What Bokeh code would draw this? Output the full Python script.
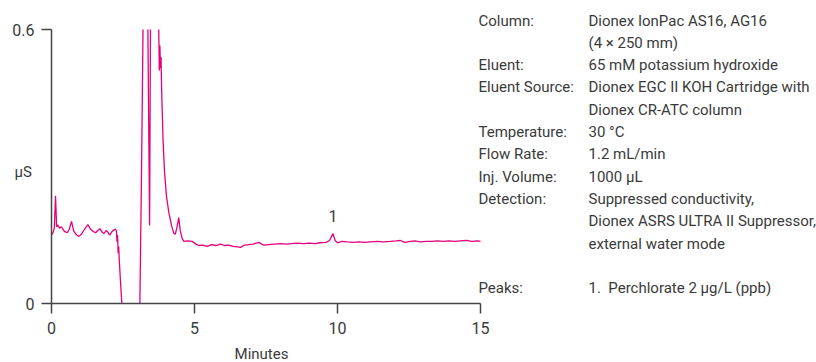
from bokeh.plotting import figure
from bokeh.models import Range1d, FixedTicker, Label, ColumnDataSource
from bokeh.core.properties import value
from bokeh.embed import file_html
from bokeh.resources import INLINE

NAN = float("nan")  # off-scale parts of the trace (above 0.6 uS / below 0) are left out

# ---- data ----
time_min = [0.00, 0.05, 0.10, 0.14, 0.18, 0.22, 0.28, 0.35, 0.45, 0.55, 0.62, 0.70, 0.78, 0.88,
            0.96, 1.05, 1.15, 1.27, 1.36, 1.45, 1.54, 1.62, 1.69, 1.76, 1.83, 1.92, 1.98, 2.04,
            2.12, 2.24, 2.27, 2.29, 2.31, 2.33, 2.35, 2.37, 2.41, 2.46, 2.80, 3.09, 3.15,
            3.20, 3.30, 3.37, 3.43, 3.46, 3.60, 3.75, 3.77, 3.79, 3.81, 3.83, 3.85,
            3.90, 3.95, 4.02, 4.10, 4.20, 4.28, 4.33, 4.38, 4.45, 4.50, 4.57, 4.63, 4.75,
            4.92, 5.05, 5.15, 5.30, 5.44, 5.60, 5.75, 5.91, 6.05, 6.20, 6.35, 6.50, 6.61, 6.75,
            6.90, 7.05, 7.25, 7.35, 7.43, 7.60, 7.80, 8.00, 8.20, 8.40, 8.60, 8.80, 9.00, 9.20,
            9.40, 9.60, 9.72, 9.84, 9.92, 10.00, 10.15, 10.34, 10.55, 10.75, 10.95, 11.15, 11.40,
            11.60, 11.85, 12.05, 12.20, 12.35, 12.55, 12.70, 12.90, 13.10, 13.30, 13.50, 13.70,
            13.90, 14.10, 14.30, 14.50, 14.70, 14.90, 15.00]
signal_us = [0.150, 0.155, 0.165, 0.236, 0.168, 0.172, 0.165, 0.168, 0.158, 0.155, 0.162, 0.180,
             0.158, 0.150, 0.147, 0.152, 0.162, 0.173, 0.163, 0.158, 0.155, 0.160, 0.164, 0.157,
             0.153, 0.160, 0.155, 0.150, 0.158, 0.163, 0.158, 0.135, 0.150, 0.110, 0.125, 0.095,
             0.050, 0.000, NAN, 0.000, 0.300,
             0.600, NAN, 0.600, 0.171, 0.600, NAN, 0.600, 0.510, 0.565, 0.515, 0.540, 0.470,
             0.360, 0.290, 0.235, 0.200, 0.170, 0.153, 0.152, 0.165, 0.188, 0.160, 0.142,
             0.136, 0.137, 0.136, 0.130,
             0.127, 0.128, 0.125, 0.129, 0.127, 0.130, 0.127, 0.128, 0.125, 0.124, 0.123, 0.128,
             0.129, 0.130, 0.134, 0.130, 0.128, 0.129, 0.130, 0.131, 0.130, 0.131, 0.132, 0.131,
             0.132, 0.131, 0.133, 0.134, 0.138, 0.153, 0.138, 0.133, 0.136, 0.135, 0.134, 0.135,
             0.134, 0.135, 0.136, 0.135, 0.136, 0.137, 0.138, 0.134, 0.136, 0.137, 0.135, 0.136,
             0.136, 0.137, 0.136, 0.137, 0.136, 0.137, 0.138, 0.136, 0.137, 0.136]

peak_time = [9.84]
peak_height = [0.153]
peak_label = ["1"]

x_min, x_max = 0, 15
y_min, y_max = 0, 0.6
x_ticks = [0, 5, 10, 15]
y_ticks = [0, 0.6]
x_title = "Minutes"
y_title = "\u00b5S"

param_names = ["Column:", "", "Eluent:", "Eluent Source:", "", "Temperature:", "Flow Rate:",
               "Inj. Volume:", "Detection:", "", "", "", "Peaks:"]
param_values = ["Dionex IonPac AS16, AG16", "(4 \u00d7 250 mm)", "65 mM potassium hydroxide",
                "Dionex EGC II KOH Cartridge with", "Dionex CR-ATC column", "30 \u00b0C",
                "1.2 mL/min", "1000 \u00b5L", "Suppressed conductivity,",
                "Dionex ASRS ULTRA II Suppressor,", "external water mode", "",
                "1.\u00a0 Perchlorate 2 \u00b5g/L (ppb)"]

FONT = "Roboto"
TXT = "#3a3a3a"
FS = "15px"
W, H = 816, 362

# plot area of the chromatogram in canvas pixels; the frame covers the whole canvas
# (so no text is clipped) and the axes are pinned to x=0 / y=0 and bounded to the data range
PL, PR, PT, PB = 51, 480, 29, 303
sx = (PR - PL) / (x_max - x_min)
sy = (PB - PT) / (y_max - y_min)
x_start, x_end = x_min - PL / sx, x_max + (W - PR) / sx
y_start, y_end = y_min - (H - PB) / sy, y_max + PT / sy

p = figure(width=W, height=H, output_backend="svg", toolbar_location=None,
           x_range=Range1d(x_start, x_end), y_range=Range1d(y_start, y_end),
           min_border_left=0, min_border_right=0, min_border_top=0, min_border_bottom=0)
p.outline_line_color = None
p.grid.visible = False
p.background_fill_color = "white"
p.border_fill_color = "white"

src = ColumnDataSource(dict(t=time_min, s=signal_us))
p.line("t", "s", source=src, line_color="#E5007D", line_width=1.3)

psrc = ColumnDataSource(dict(t=peak_time, h=peak_height, lab=peak_label))
p.text("t", "h", text="lab", source=psrc, y_offset=-18, text_align="center",
       text_baseline="middle", text_font=value(FONT), text_font_size="16px", text_color=TXT)

for ax, ticks, bnds, loc in ((p.xaxis[0], x_ticks, (x_min, x_max), y_min),
                             (p.yaxis[0], y_ticks, (y_min, y_max), x_min)):
    ax.ticker = FixedTicker(ticks=ticks)
    ax.bounds = bnds
    ax.fixed_location = loc
    ax.minor_tick_line_color = None
    ax.major_tick_out = 10
    ax.major_tick_in = 0
    ax.axis_line_color = "#444444"
    ax.major_tick_line_color = "#444444"
    ax.axis_line_width = 1.5
    ax.major_tick_line_width = 1.5
    ax.major_label_text_font = FONT
    ax.major_label_text_font_size = "16px"
    ax.major_label_text_color = TXT
p.xaxis.major_label_standoff = 8
p.yaxis.major_label_standoff = 7
p.yaxis.major_label_overrides = {0: "0", 0.6: "0.6"}

# axis titles (canvas units: origin at top-left of the canvas)
p.add_layout(Label(x=261, y=353, x_units="canvas", y_units="canvas", text=x_title,
                   text_align="center", text_baseline="middle", text_font=FONT,
                   text_font_size=FS, text_color=TXT))
p.add_layout(Label(x=14, y=171, x_units="canvas", y_units="canvas", text=y_title,
                   text_align="left", text_baseline="middle", text_font=FONT,
                   text_font_size=FS, text_color=TXT))

# conditions block
top = 20
step = 22.3
for i, (nm, vl) in enumerate(zip(param_names, param_values)):
    yy = top + i * step
    if nm:
        p.add_layout(Label(x=478, y=yy, x_units="canvas", y_units="canvas", text=nm,
                           text_baseline="middle", text_font=FONT, text_font_size=FS,
                           text_color=TXT))
    if vl:
        p.add_layout(Label(x=588, y=yy, x_units="canvas", y_units="canvas", text=vl,
                           text_baseline="middle", text_font=FONT, text_font_size=FS,
                           text_color=TXT))

open("out.html", "w").write(file_html(p, INLINE))
